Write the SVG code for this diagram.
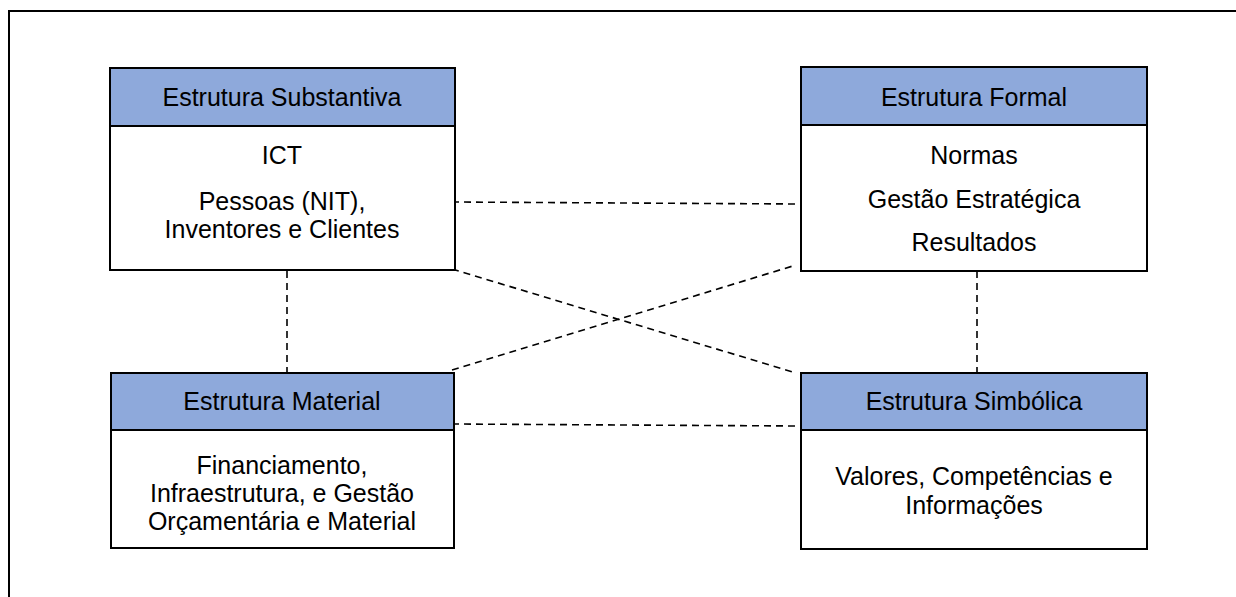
<svg xmlns="http://www.w3.org/2000/svg" width="1236" height="597" viewBox="0 0 1236 597">
  <style>
    .box { fill: #ffffff; stroke: #000000; stroke-width: 2; }
    .hdr { fill: #8EA9DB; stroke: #000000; stroke-width: 2; }
    .t { font-family: "Liberation Sans", Arial, sans-serif; font-size: 25px; fill: #000000; text-anchor: middle; }
    .conn { stroke: #000000; stroke-width: 1.6; stroke-dasharray: 7 5; fill: none; }
  </style>
  <rect x="0" y="0" width="1236" height="597" fill="#ffffff"/>
  <rect x="9" y="11" width="1240" height="600" fill="none" stroke="#000000" stroke-width="2"/>

  <g id="connectors">
    <line class="conn" x1="452" y1="202" x2="796" y2="204"/>
    <line class="conn" x1="452" y1="269" x2="796" y2="373"/>
    <line class="conn" x1="452" y1="370" x2="796" y2="265"/>
    <line class="conn" x1="452" y1="424" x2="796" y2="426"/>
    <line class="conn" x1="287" y1="271" x2="287" y2="372"/>
    <line class="conn" x1="977" y1="271" x2="977" y2="372"/>
  </g>

  <g id="substantiva">
    <rect class="box" x="110" y="68" width="345" height="202"/>
    <rect class="hdr" x="110" y="68" width="345" height="58"/>
    <text class="t" x="282" y="106">Estrutura Substantiva</text>
    <text class="t" x="282" y="164">ICT</text>
    <text class="t" x="282" y="210">Pessoas (NIT),</text>
    <text class="t" x="282" y="238">Inventores e Clientes</text>
  </g>

  <g id="formal">
    <rect class="box" x="801" y="67" width="346" height="204"/>
    <rect class="hdr" x="801" y="67" width="346" height="58"/>
    <text class="t" x="974" y="106">Estrutura Formal</text>
    <text class="t" x="974" y="164">Normas</text>
    <text class="t" x="974" y="208">Gestão Estratégica</text>
    <text class="t" x="974" y="251">Resultados</text>
  </g>

  <g id="material">
    <rect class="box" x="111" y="373" width="343" height="175"/>
    <rect class="hdr" x="111" y="373" width="343" height="57"/>
    <text class="t" x="282" y="410">Estrutura Material</text>
    <text class="t" x="282" y="474">Financiamento,</text>
    <text class="t" x="282" y="502">Infraestrutura, e Gestão</text>
    <text class="t" x="282" y="530">Orçamentária e Material</text>
  </g>

  <g id="simbolica">
    <rect class="box" x="801" y="373" width="346" height="176"/>
    <rect class="hdr" x="801" y="373" width="346" height="57"/>
    <text class="t" x="974" y="410">Estrutura Simbólica</text>
    <text class="t" x="974" y="485">Valores, Competências e</text>
    <text class="t" x="974" y="514">Informações</text>
  </g>
</svg>
